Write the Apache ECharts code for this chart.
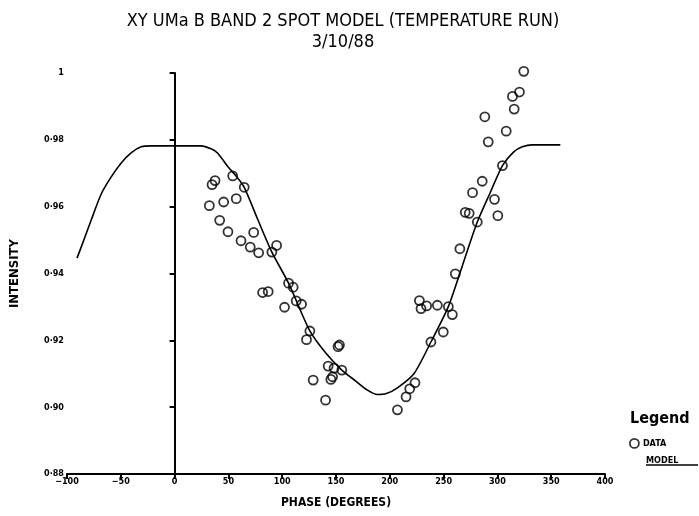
<!DOCTYPE html>
<html>
<head>
<meta charset="utf-8">
<script src="https://cdn.jsdelivr.net/npm/echarts@6/dist/echarts.min.js"></script>
<style>html,body{margin:0;padding:0;background:#fff;}#c{width:699px;height:516px;}</style>
</head>
<body>
<div id="c"></div>
<script>
const titleText = 'XY UMa B BAND 2 SPOT MODEL (TEMPERATURE RUN)';
const subText = '3/10/88';
const xName = 'PHASE (DEGREES)';
const yName = 'INTENSITY';

const dataPhase = [54.0, 37.6, 34.8, 64.7, 32.3, 45.6, 57.3, 41.9, 49.6, 73.5, 61.7, 70.3, 78.1, 94.8, 90.4, 105.9, 110.2, 81.8, 87.0, 113.0, 118.0, 102.2, 125.7, 122.6, 151.9, 153.2, 142.7, 148.2, 155.4, 146.8, 145.2, 128.8, 140.3,
  324.5, 320.5, 314.0, 315.6, 288.3, 308.2, 291.5, 304.7, 285.9, 276.9, 297.3, 270.1, 273.8, 281.3, 300.4, 265.1, 260.9, 227.5, 229.0, 234.2, 244.2, 254.4, 258.1, 249.7, 238.2, 223.4, 218.5, 215.1, 207.1];
const dataIntensity = [0.9692, 0.9678, 0.9666, 0.9658, 0.9603, 0.9614, 0.9624, 0.9559, 0.9525, 0.9523, 0.9498, 0.9479, 0.9462, 0.9484, 0.9464, 0.9371, 0.9359, 0.9343, 0.9346, 0.9318, 0.9308, 0.9299, 0.9228, 0.9202, 0.9181, 0.9186, 0.9123, 0.9117, 0.9111, 0.9091, 0.9083, 0.9081, 0.9021,
  1.0005, 0.9943, 0.9930, 0.9892, 0.9869, 0.9826, 0.9794, 0.9723, 0.9676, 0.9642, 0.9622, 0.9583, 0.9580, 0.9554, 0.9573, 0.9474, 0.9399, 0.9319, 0.9295, 0.9303, 0.9305, 0.9301, 0.9277, 0.9225, 0.9195, 0.9073, 0.9055, 0.9031, 0.8992];

const modelPhase = [-90.7, -84.0, -77.5, -68.2, -58.9, -49.6, -40.4, -31.1, -21.8, 24.6, 33.9, 40.1, 49.4, 57.1, 64.7, 77.5, 90.4, 105.9, 125.7, 140.5, 155.4, 168.4, 179.2, 188.5, 196.2, 207.1, 222.4, 238.2, 254.4, 267.6, 281.3, 293.6, 304.7, 315.2, 323.2, 332.3, 358.5];
const modelIntensity = [0.9446, 0.9503, 0.9560, 0.9638, 0.9689, 0.9731, 0.9761, 0.9779, 0.9782, 0.9782, 0.9773, 0.9760, 0.9720, 0.9692, 0.9658, 0.9560, 0.9464, 0.9371, 0.9228, 0.9162, 0.9111, 0.9078, 0.9051, 0.9038, 0.9040, 0.9058, 0.9100, 0.9195, 0.9301, 0.9425, 0.9554, 0.9644, 0.9723, 0.9764, 0.9779, 0.9785, 0.9785];

const xTicks = [-100, -50, 0, 50, 100, 150, 200, 250, 300, 350, 400];
const yTickLabels = {'0.88': '0·88', '0.9': '0·90', '0.92': '0·92', '0.94': '0·94', '0.96': '0·96', '0.98': '0·98', '1': '1'};

const FONT = '"DejaVu Sans Condensed", "Liberation Sans Narrow", "DejaVu Sans", sans-serif';

const chart = echarts.init(document.getElementById('c'));
chart.setOption({
  backgroundColor: '#fff',
  animation: false,
  title: [
    { text: titleText, subtext: subText, left: 338, textAlign: 'center', top: 7, itemGap: 3,
      textStyle: { fontFamily: FONT, fontSize: 18, fontWeight: 'normal', color: '#000' },
      subtextStyle: { fontFamily: FONT, fontSize: 18, color: '#000' } },
    { text: 'Legend', left: 625, top: 406,
      textStyle: { fontFamily: FONT, fontSize: 16, fontWeight: 'bold', color: '#000' } }
  ],
  legend: [
    { data: ['DATA'], icon: 'circle',
      itemStyle: { color: 'rgba(0,0,0,0)', borderColor: '#000', borderWidth: 1.8 },
      left: 624, top: 433, itemWidth: 9, itemHeight: 9, itemGap: 4,
      textStyle: { fontFamily: FONT, fontSize: 9, fontWeight: 'bold', color: '#000', padding: [0, 0, 0, -1] } },
    { data: [{ name: 'MODEL', icon: 'none' }], left: 636, top: 449, itemWidth: 0,
      textStyle: { fontFamily: FONT, fontSize: 9, fontWeight: 'bold', color: '#000' } }
  ],
  graphic: [
    { type: 'line', shape: { x1: 646, y1: 465, x2: 698, y2: 465 }, style: { stroke: '#000', lineWidth: 1.5 } }
  ],
  grid: { left: 65, right: 94, top: 73, bottom: 42 },
  xAxis: {
    type: 'value', min: -100, max: 400, interval: 50,
    name: xName, nameLocation: 'middle', nameGap: 23,
    nameTextStyle: { fontFamily: FONT, fontSize: 12, fontWeight: 'bold', color: '#000' },
    axisLine: { lineStyle: { color: '#000', width: 2 } },
    axisTick: { length: 5, lineStyle: { color: '#000', width: 2 } },
    axisLabel: { fontFamily: FONT, fontSize: 9, fontWeight: 'bold', color: '#000', margin: 3,
      formatter: v => xTicks.includes(v) ? String(v).replace('-', '−') : '' },
    splitLine: { show: false }
  },
  yAxis: {
    type: 'value', min: 0.88, max: 1.0, interval: 0.02,
    name: yName, nameLocation: 'middle', nameGap: 46, nameRotate: 90,
    nameTextStyle: { fontFamily: FONT, fontSize: 13, fontWeight: 'bold', color: '#000' },
    axisLine: { show: true, lineStyle: { color: '#000', width: 2 } },
    axisTick: { show: true, length: 5, lineStyle: { color: '#000', width: 2 } },
    axisLabel: { fontFamily: FONT, fontSize: 9, fontWeight: 'bold', color: '#000', margin: 3,
      formatter: v => yTickLabels[String(+v.toFixed(2))] || '' },
    splitLine: { show: false }
  },
  series: [
    { name: 'MODEL', type: 'line', smooth: 0.25, showSymbol: false, symbol: 'none',
      data: modelPhase.map((p, i) => [p, modelIntensity[i]]),
      lineStyle: { color: '#000', width: 1.6 }, itemStyle: { color: '#000' },
      markLine: { silent: true, symbol: 'none', label: { show: false },
        lineStyle: { color: '#000', width: 1, type: [10, 3, 2, 3] },
        data: [{ xAxis: 0 }] } },
    { name: 'DATA', type: 'scatter', symbol: 'circle', symbolSize: 9, clip: false,
      data: dataPhase.map((p, i) => [p, dataIntensity[i]]),
      itemStyle: { color: 'rgba(255,255,255,0)', borderColor: '#000', borderWidth: 1.8 } }
  ]
});
</script>
</body>
</html>
